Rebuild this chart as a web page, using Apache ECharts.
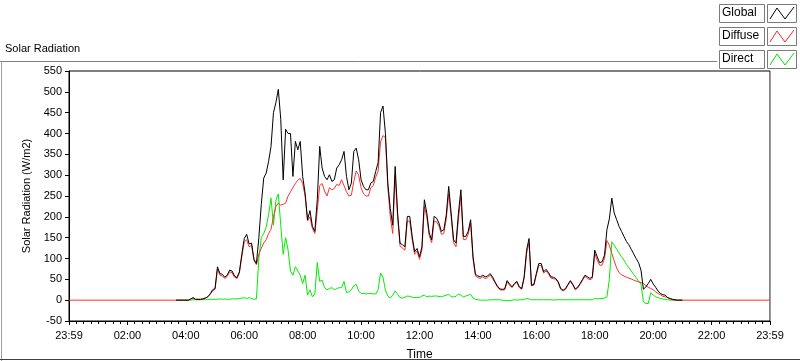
<!DOCTYPE html>
<html><head><meta charset="utf-8">
<script src="https://cdn.jsdelivr.net/npm/echarts@6/dist/echarts.min.js"></script>
<style>html,body{margin:0;padding:0;background:#fff}#c{width:800px;height:361px}</style>
</head><body><div id="c"></div>
<script>
// time grid: minutes after midnight, 03:40 .. 21:00, 5-minute steps
const START_MIN = 220, STEP_MIN = 5;
const seriesNames = ['Global', 'Diffuse', 'Direct'];
const xTickLabels = {0:'23:59',120:'02:00',240:'04:00',360:'06:00',480:'08:00',600:'10:00',720:'12:00',840:'14:00',960:'16:00',1080:'18:00',1200:'20:00',1320:'22:00',1440:'23:59'};
const yTicks = [-50,0,50,100,150,200,250,300,350,400,450,500,550];

const globalW = [
0,0,0,0,
0,0,3,6,2,2,2,3,5,8,
15,25,28,80,64,62,55,60,72,70,
58,54,68,110,148,158,135,137,98,88,
150,230,293,305,333,369,450,474,506,434,
289,410,400,400,297,381,361,381,297,257,
193,215,177,165,241,369,317,297,289,301,
285,289,317,325,337,357,297,265,281,357,
365,337,289,273,265,265,281,285,309,330,
450,466,400,280,220,180,321,209,137,133,
128,201,201,153,116,124,104,128,241,209,
161,145,201,197,185,165,169,205,273,209,
145,137,209,265,153,153,165,193,104,62,
58,56,60,56,58,64,56,44,34,27,
26,27,47,39,32,40,45,32,28,56,
120,148,36,38,64,88,88,68,74,66,
56,55,52,44,28,24,28,38,47,38,
27,31,40,50,60,56,52,56,120,104,
90,92,108,169,195,245,209,193,177,165,
153,141,133,122,111,100,90,72,26,32,
40,50,39,31,22,16,13,12,6,4,
2,1,0,0,0
];
const diffuseW = [
0,0,0,0,
0,0,3,5,2,2,2,3,5,8,
14,22,26,74,60,58,52,57,68,66,
55,52,65,105,140,145,128,132,95,85,
110,125,137,145,160,170,200,225,233,228,
230,233,250,260,270,280,288,292,280,250,
190,200,172,160,215,275,280,262,250,270,
265,268,278,275,289,275,260,250,252,285,
310,300,270,255,250,250,270,275,295,310,
380,395,390,270,200,160,300,200,130,125,
120,190,190,145,110,118,98,120,225,200,
155,138,190,188,178,158,160,195,255,200,
138,128,195,250,146,145,158,185,98,58,
54,52,56,52,54,60,52,42,32,25,
24,25,44,36,30,38,43,30,26,53,
112,138,34,36,60,83,84,65,70,63,
53,52,50,42,26,22,26,36,45,36,
25,29,38,48,57,52,49,52,112,96,
84,84,100,143,132,112,94,77,66,61,
58,55,53,51,48,46,44,42,40,35,
31,28,25,20,16,13,9,8,6,3,
1,0,0,0,0
];
const directW = [
0,0,0,0,
0,0,0,1,1,1,1,1,1,2,
2,2,2,2,3,2,3,2,2,3,
3,3,4,5,6,4,6,4,2,3,
100,150,160,175,205,245,180,240,255,180,
110,150,120,70,60,80,70,60,40,60,
12,25,8,15,90,45,48,30,25,28,
30,25,28,30,30,45,18,20,25,35,
38,22,16,16,15,16,16,15,15,25,
65,55,24,10,5,12,22,14,6,5,
7,10,9,7,6,7,6,10,12,8,
10,9,10,10,9,8,10,12,14,8,
8,9,15,12,8,10,12,14,5,2,
1,0,0,0,0,1,1,1,1,1,
0,-1,-1,-1,0,1,0,1,1,2,
4,3,1,1,1,1,1,1,1,1,
1,0,1,1,1,1,1,1,1,1,
1,1,1,1,1,1,1,1,4,3,
4,4,5,8,50,140,132,122,113,104,
96,86,78,70,62,54,46,38,-4,-8,
-8,18,12,8,6,4,3,2,1,0,
0,0,0,0,0
];

function toPairs(arr, padNight) {
  const out = [];
  if (padNight) out.push([0, 0]);
  arr.forEach((v, k) => out.push([START_MIN + k * STEP_MIN, v]));
  if (padNight) out.push([1440, 0]);
  return out;
}

const FONT = 'Liberation Sans';
const chart = echarts.init(document.getElementById('c'), null, {renderer: 'canvas'});

const legendColors = ['#000000', '#ff2020', '#00e000'];
const graphic = [
  {type:'text', left:5, top:43, style:{text:'Solar Radiation', font:'11px "' + FONT + '"', fill:'#000'}},
  {type:'line', shape:{x1:0, y1:61.5, x2:717, y2:61.5}, style:{stroke:'#7f7f7f', lineWidth:1}},
  {type:'line', shape:{x1:1.5, y1:61, x2:1.5, y2:361}, style:{stroke:'#9f9f9f', lineWidth:1}},
  {type:'line', shape:{x1:0, y1:359.5, x2:800, y2:359.5}, style:{stroke:'#404040', lineWidth:1}},
  {type:'line', shape:{x1:770.5, y1:71, x2:770.5, y2:321}, style:{stroke:'#a0a0a0', lineWidth:1}, z:100}
];
seriesNames.forEach((name, r) => {
  const y0 = 4 + r * 23;
  graphic.push({type:'rect', shape:{x:719.5, y:y0 + 0.5, width:45, height:18}, style:{fill:'#fff', stroke:'#7a7a7a', lineWidth:1}});
  graphic.push({type:'text', left:722, top:y0 + 3, style:{text:name, font:'12px "' + FONT + '"', fill:'#000'}});
  graphic.push({type:'rect', shape:{x:767.5, y:y0 + 0.5, width:29, height:18}, style:{fill:'#fff', stroke:'#7a7a7a', lineWidth:1}});
  graphic.push({type:'polyline', shape:{points:[[770, y0 + 15], [777, y0 + 4], [785, y0 + 15], [794, y0 + 3]]}, style:{stroke:legendColors[r], fill:null, lineWidth:1}});
});

chart.setOption({
  animation: false,
  backgroundColor: '#fff',
  textStyle: {fontFamily: FONT},
  grid: {left: 69, right: 30, top: 71, bottom: 40, show: true, borderColor: '#000', borderWidth: 1, backgroundColor: '#fff', containLabel: false, outerBoundsMode: 'none'},
  xAxis: {
    type: 'value', min: 0, max: 1440, interval: 120,
    name: 'Time', nameLocation: 'middle', nameGap: 28,
    nameTextStyle: {fontSize: 12, color: '#000', fontFamily: FONT},
    axisLine: {show: true, onZero: false, lineStyle: {color: '#000', width: 1}},
    axisTick: {show: true, length: 4, lineStyle: {color: '#000'}},
    minorTick: {show: true, splitNumber: 8, length: 3, lineStyle: {color: '#000'}},
    axisLabel: {fontSize: 11, color: '#000', margin: 9, fontFamily: FONT,
      formatter: v => (xTickLabels[v] !== undefined ? xTickLabels[v] : '')},
    splitLine: {show: false}
  },
  yAxis: {
    type: 'value', min: yTicks[0], max: yTicks[yTicks.length - 1], interval: 50,
    name: 'Solar Radiation (W/m2)', nameLocation: 'middle', nameGap: 33,
    nameTextStyle: {fontSize: 11, color: '#000', fontFamily: FONT},
    axisLine: {show: true, lineStyle: {color: '#000', width: 1}},
    axisTick: {show: true, length: 4, lineStyle: {color: '#000'}},
    axisLabel: {fontSize: 11, color: '#000', margin: 7, fontFamily: FONT},
    splitLine: {show: false}
  },
  graphic: graphic,
  series: [
    {name: 'Direct', type: 'line', data: toPairs(directW, false), showSymbol: false, z: 1,
     lineStyle: {color: '#00ee00', width: 1}, itemStyle: {color: '#00ee00'}},
    {name: 'Diffuse', type: 'line', data: toPairs(diffuseW, true), showSymbol: false, z: 2,
     lineStyle: {color: '#ff3030', width: 1}, itemStyle: {color: '#ff3030'}},
    {name: 'Global', type: 'line', data: toPairs(globalW, false), showSymbol: false, z: 3,
     lineStyle: {color: '#000000', width: 1}, itemStyle: {color: '#000000'}}
  ]
});
</script></body></html>
